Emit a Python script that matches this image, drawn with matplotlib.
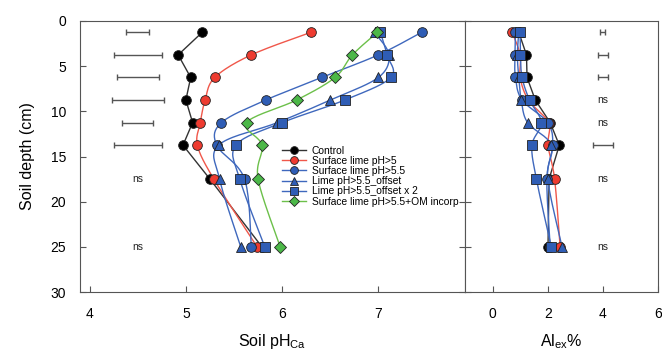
import numpy as np
import matplotlib
matplotlib.use("Agg")
import matplotlib.pyplot as plt

plt.rcParams['font.family'] = ['Liberation Sans', 'DejaVu Sans']
plt.rcParams['mathtext.default'] = 'regular'

# soil layer mid-depths (cm)
depth = [1.25, 3.75, 6.25, 8.75, 11.25, 13.75, 17.5, 25]

labels = ['Control', 'Surface lime pH>5', 'Surface lime pH>5.5',
          'Lime pH>5.5_offset', 'Lime pH>5.5_offset x 2',
          'Surface lime pH>5.5+OM incorp']

# soil pH (CaCl2)
ph_control = [5.17, 4.92, 5.05, 5.00, 5.07, 4.97, 5.25, 5.79]
ph_surf5 = [6.30, 5.68, 5.30, 5.20, 5.15, 5.12, 5.29, 5.74]
ph_surf55 = [7.45, 7.00, 6.41, 5.83, 5.37, 5.32, 5.61, 5.68]
ph_offset = [6.96, 7.11, 7.00, 6.50, 5.95, 5.34, 5.35, 5.57]
ph_offset2 = [7.02, 7.09, 7.13, 6.65, 6.00, 5.52, 5.56, 5.82]
ph_om = [6.99, 6.73, 6.55, 6.15, 5.63, 5.79, 5.75, 5.98]

# exchangeable Al (%)
al_control = [0.95, 1.23, 1.25, 1.55, 2.09, 2.42, 2.05, 2.01]
al_surf5 = [0.71, 1.00, 1.00, 1.30, 2.03, 2.01, 2.25, 2.45]
al_surf55 = [0.83, 0.81, 0.83, 1.07, 2.00, 2.18, 1.97, 2.09]
al_offset = [0.95, 0.90, 0.95, 1.04, 1.27, 2.13, 2.00, 2.52]
al_offset2 = [1.00, 1.01, 1.07, 1.34, 1.77, 1.43, 1.59, 2.13]

# LSD bars (half widths), None = ns
lsd_ph = [0.12, 0.25, 0.22, 0.27, 0.16, 0.25, None, None]
lsd_al = [0.09, 0.19, 0.19, None, None, 0.35, None, None]

styles = [
    dict(color='#333333', mfc='black', marker='o', smooth=False),
    dict(color='#f0574a', mfc='#ee3b30', marker='o', smooth=True),
    dict(color='#3f68bd', mfc='#2f5db5', marker='o', smooth=True),
    dict(color='#3f68bd', mfc='#2f5db5', marker='^', smooth=True),
    dict(color='#3f68bd', mfc='#2f5db5', marker='s', smooth=True),
    dict(color='#6cc04a', mfc='#4cb848', marker='D', smooth=True),
]
msize = {'o': 7, '^': 7, 's': 6.5, 'D': 6.5}


def smooth_path(x, y, sx, sy, n=20):
    # Catmull-Rom curve through the points, in pixel-like scale
    px = np.asarray(x) * sx
    py = np.asarray(y) * sy
    pts = np.column_stack([px, py])
    pts = np.vstack([pts[0], pts, pts[-1]])
    out = []
    for i in range(1, len(pts) - 2):
        p0, p1, p2, p3 = pts[i - 1], pts[i], pts[i + 1], pts[i + 2]
        t = np.linspace(0, 1, n)[:, None]
        c = 0.5 * ((2 * p1) + (-p0 + p2) * t + (2 * p0 - 5 * p1 + 4 * p2 - p3) * t ** 2
                   + (-p0 + 3 * p1 - 3 * p2 + p3) * t ** 3)
        out.append(c)
    c = np.vstack(out)
    return c[:, 0] / sx, c[:, 1] / sy


def draw(ax, series, sx):
    for vals, lab, st in zip(series, labels, styles):
        if st['smooth']:
            lx, ly = smooth_path(vals, depth, sx, 9.0)
        else:
            lx, ly = vals, depth
        ax.plot(lx, ly, color=st['color'], lw=1.0, zorder=2)
        ax.plot(vals, depth, ls='none', marker=st['marker'], ms=msize[st['marker']],
                mfc=st['mfc'], mec='#222222', mew=0.6, zorder=3)
        ax.plot([], [], color=st['color'], lw=1.0, marker=st['marker'],
                ms=msize[st['marker']], mfc=st['mfc'], mec='#222222', mew=0.6, label=lab)


def lsd(ax, xc, halves):
    for d, h in zip(depth, halves):
        if h is None:
            ax.text(xc, d, 'ns', ha='center', va='center', fontsize=7.5, color='#222222')
        else:
            ax.errorbar(xc, d, xerr=h, fmt='none', ecolor='#555555', elinewidth=1.0,
                        capsize=2.5, capthick=1.0)


fig = plt.figure(figsize=(6.62, 3.56), dpi=100)
ax1 = fig.add_axes([80 / 662, 1 - 292 / 356, 385 / 662, 271 / 356])
ax2 = fig.add_axes([465 / 662, 1 - 292 / 356, 193 / 662, 271 / 356])

draw(ax1, [ph_control, ph_surf5, ph_surf55, ph_offset, ph_offset2, ph_om], 96.0)
lsd(ax1, 4.5, lsd_ph)
draw(ax2, [al_control, al_surf5, al_surf55, al_offset, al_offset2], 27.7)
lsd(ax2, 4.0, lsd_al)

ax1.set_xlim(3.9, 7.9)
ax1.set_xticks([4, 5, 6, 7])
ax2.set_xlim(-1, 6)
ax2.set_xticks([0, 2, 4, 6])
for ax in (ax1, ax2):
    ax.set_ylim(30, 0)
    ax.set_yticks(range(0, 31, 5))
    for s in ax.spines.values():
        s.set_color('#555555')
        s.set_linewidth(0.8)
    ax.tick_params(direction='in', length=4, width=0.8, color='#555555',
                   labelsize=10, pad=11)

ax1.tick_params(axis='y', right=True, pad=10)
ax2.tick_params(axis='y', left=True, labelleft=False)

ax1.set_ylabel('Soil depth (cm)', fontsize=11.5, labelpad=11)
ax1.set_xlabel('Soil pH$_{Ca}$', fontsize=11.5, labelpad=8)
ax2.set_xlabel('Al$_{ex}$%', fontsize=11.5, labelpad=8)

ax1.legend(loc='upper left', bbox_to_anchor=(0.525, 0.54), frameon=False,
           fontsize=7.4, handlelength=2.3, handletextpad=0.6, labelspacing=0.02,
           borderpad=0, borderaxespad=0, markerscale=0.8)

fig.savefig('out.png', dpi=100)
